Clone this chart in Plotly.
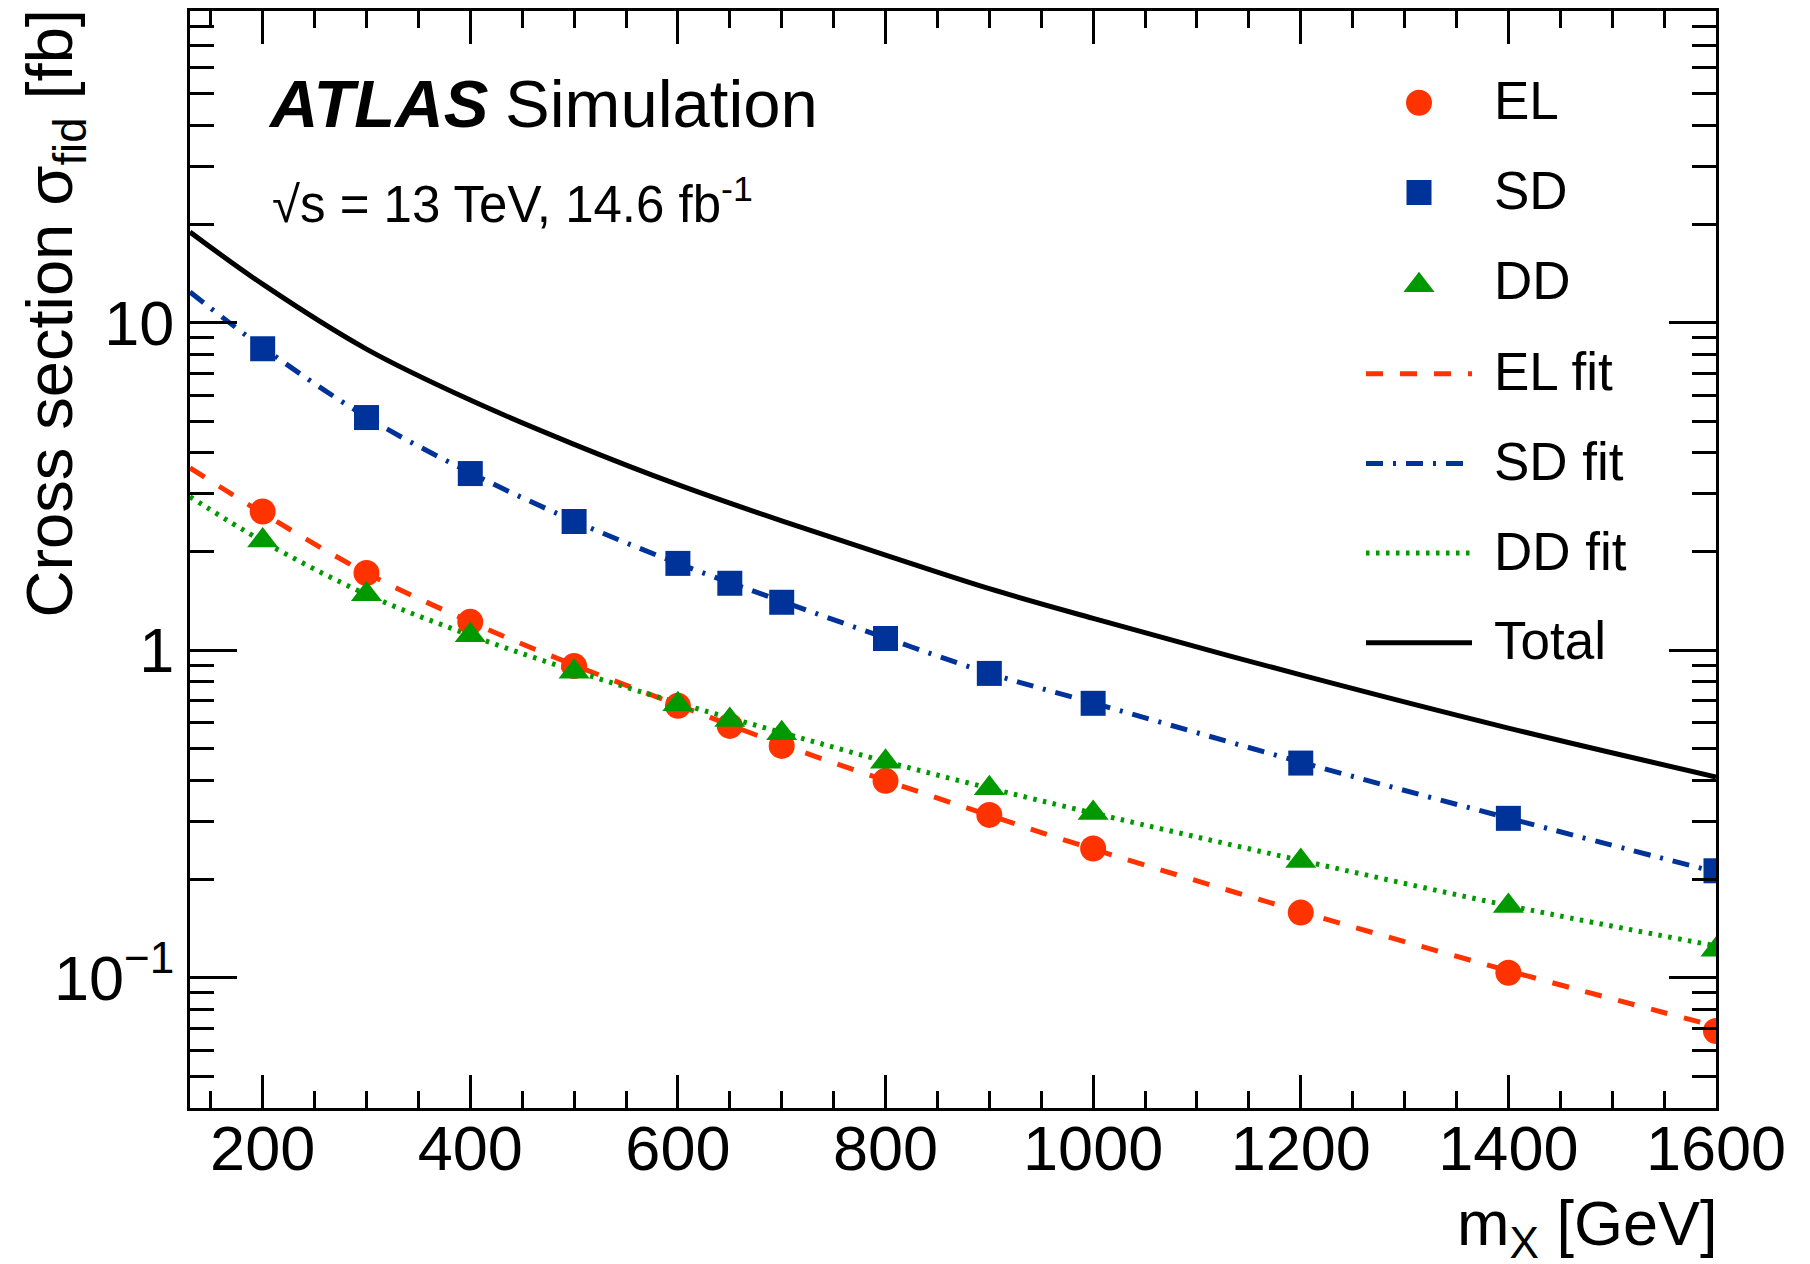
import math
import plotly.graph_objects as go

# ---------------- data ----------------
mass = [200, 300, 400, 500, 600, 650, 700, 800, 900, 1000, 1200, 1400, 1600]
el_xsec = [2.65, 1.72, 1.22, 0.894, 0.676, 0.587, 0.510, 0.399, 0.314, 0.248, 0.158, 0.1035, 0.0687]
sd_xsec = [8.32, 5.13, 3.46, 2.47, 1.84, 1.60, 1.40, 1.085, 0.849, 0.688, 0.452, 0.3065, 0.212]
dd_xsec = [2.16, 1.48, 1.11, 0.859, 0.684, 0.612, 0.557, 0.456, 0.379, 0.318, 0.227, 0.1656, 0.1216]

fit_mass = [130, 200, 300, 400, 500, 600, 700, 800, 900, 1000, 1200, 1400, 1600]
el_fit = [3.60, 2.62, 1.72, 1.22, 0.90, 0.68, 0.515, 0.400, 0.313, 0.247, 0.159, 0.105, 0.071]
sd_fit = [12.4, 8.40, 5.15, 3.48, 2.48, 1.84, 1.41, 1.09, 0.850, 0.690, 0.455, 0.307, 0.210]
dd_fit = [2.94, 2.15, 1.48, 1.11, 0.865, 0.690, 0.560, 0.457, 0.379, 0.318, 0.228, 0.166, 0.125]
total = [18.9, 13.1, 8.30, 5.80, 4.25, 3.20, 2.48, 1.95, 1.54, 1.25, 0.84, 0.578, 0.410]

x_ticks = [200, 400, 600, 800, 1000, 1200, 1400, 1600]
y_ticks = [0.1, 1, 10]
y_ticktext = ["10<sup>\u22121</sup>", "1", "10"]

# ---------------- style ----------------
FONT = "Liberation Sans, Arial, Helvetica, sans-serif"
C_EL = "rgb(255,51,0)"
C_SD = "rgb(0,51,153)"
C_DD = "rgb(0,153,0)"
LW = 5
S_CIRC, S_SQ, S_TRI = 26, 25, 27
W, H = 1810, 1264
L, R, T, B = 190, 1716, 8, 1108


def fx(px):
    return (px - L) / (R - L)


def fy(py):
    return (B - py) / (B - T)


fig = go.Figure()

# fit curves and total
fig.add_trace(go.Scatter(x=fit_mass, y=el_fit, mode="lines", line=dict(color=C_EL, width=LW, dash="17px,17px", shape="spline")))
fig.add_trace(go.Scatter(x=fit_mass, y=sd_fit, mode="lines", line=dict(color=C_SD, width=LW, dash="17px,10px,3px,10px", shape="spline")))
fig.add_trace(go.Scatter(x=fit_mass, y=dd_fit, mode="lines", line=dict(color=C_DD, width=LW, dash="3.5px,6.5px", shape="spline")))
fig.add_trace(go.Scatter(x=fit_mass, y=total, mode="lines", line=dict(color="black", width=LW, shape="spline")))

# simulated points
fig.add_trace(go.Scatter(x=mass, y=el_xsec, mode="markers", marker=dict(symbol="circle", size=S_CIRC, color=C_EL, line=dict(width=0))))
fig.add_trace(go.Scatter(x=mass, y=sd_xsec, mode="markers", marker=dict(symbol="square", size=S_SQ, color=C_SD, line=dict(width=0))))
fig.add_trace(go.Scatter(x=mass, y=dd_xsec, mode="markers", marker=dict(symbol="triangle-up", size=S_TRI, color=C_DD, line=dict(width=0))))

# ---------------- legend (drawn by hand, ROOT style) ----------------
leg_marker_x = fx(1419)
leg_line_x = [fx(1366), fx(1472)]
leg_rows = [100, 190, 280, 371.7, 461.7, 551.5, 641.5]
leg_labels = ["EL", "SD", "DD", "EL fit", "SD fit", "DD fit", "Total"]

fig.add_trace(go.Scatter(x=[leg_marker_x], y=[fy(leg_rows[0])], xaxis="x2", yaxis="y2", mode="markers",
                         marker=dict(symbol="circle", size=S_CIRC, color=C_EL, line=dict(width=0))))
fig.add_trace(go.Scatter(x=[leg_marker_x], y=[fy(leg_rows[1])], xaxis="x2", yaxis="y2", mode="markers",
                         marker=dict(symbol="square", size=S_SQ, color=C_SD, line=dict(width=0))))
fig.add_trace(go.Scatter(x=[leg_marker_x], y=[fy(leg_rows[2] + 3)], xaxis="x2", yaxis="y2", mode="markers",
                         marker=dict(symbol="triangle-up", size=S_TRI, color=C_DD, line=dict(width=0))))
for row, col, dash in [(3, C_EL, "17px,17px"), (4, C_SD, "17px,10px,3px,10px"), (5, C_DD, "3.5px,6.5px"), (6, "black", "solid")]:
    fig.add_trace(go.Scatter(x=leg_line_x, y=[fy(leg_rows[row])] * 2, xaxis="x2", yaxis="y2", mode="lines",
                             line=dict(color=col, width=LW, dash=dash)))

annotations = []
for row, lab in zip(leg_rows, leg_labels):
    annotations.append(dict(text=lab, x=fx(1493), y=fy(row - 2), xref="paper", yref="paper",
                            xanchor="left", yanchor="middle", showarrow=False, borderpad=0,
                            font=dict(family=FONT, size=53, color="black")))

# ATLAS label
annotations.append(dict(text="<b><i>ATLAS</i></b>", x=fx(267), y=fy(101), xref="paper", yref="paper",
                        xanchor="left", yanchor="middle", showarrow=False, borderpad=0,
                        font=dict(family=FONT, size=67, color="black")))
annotations.append(dict(text="Simulation", x=fx(504), y=fy(101), xref="paper", yref="paper",
                        xanchor="left", yanchor="middle", showarrow=False, borderpad=0,
                        font=dict(family=FONT, size=67, color="black")))
annotations.append(dict(text="\u221As = 13 TeV, 14.6 fb<sup>-1</sup>", x=fx(271), y=fy(232),
                        xref="paper", yref="paper", xanchor="left", yanchor="bottom", showarrow=False,
                        borderpad=0, font=dict(family=FONT, size=51, color="black")))

# axis titles (ROOT/ATLAS style: aligned to the end of the axis)
annotations.append(dict(text="m<sub>X</sub> [GeV]", x=fx(1718), y=fy(1187), xref="paper", yref="paper",
                        xanchor="right", yanchor="top", showarrow=False, borderpad=0,
                        font=dict(family=FONT, size=63, color="black")))
annotations.append(dict(text="Cross section \u03c3<sub>fid</sub> [fb]", x=fx(12), y=fy(6),
                        xref="paper", yref="paper", xanchor="left", yanchor="top", textangle=-90,
                        showarrow=False, borderpad=0, font=dict(family=FONT, size=65, color="black")))

y_minor = [m * d for d in (0.01, 0.1, 1, 10) for m in range(2, 10) if 0.04 <= m * d <= 89]

fig.update_layout(
    width=W, height=H, autosize=False,
    margin=dict(l=L, r=W - R, t=T, b=H - B, pad=0),
    plot_bgcolor="white", paper_bgcolor="white",
    showlegend=False,
    font=dict(family=FONT, color="black"),
    annotations=annotations,
    xaxis=dict(
        range=[130, 1600], tickmode="array", tickvals=x_ticks, ticktext=[str(v) for v in x_ticks],
        ticks="inside", ticklen=33, tickwidth=3, tickcolor="black", ticklabelstandoff=-17,
        showline=True, linewidth=3, linecolor="black", mirror="allticks",
        showgrid=False, zeroline=False,
        tickfont=dict(family=FONT, size=63, color="black"),
        minor=dict(dtick=50, tick0=0, ticks="inside", ticklen=17, tickwidth=3, tickcolor="black", showgrid=False),
    ),
    yaxis=dict(
        type="log", range=[math.log10(0.04), math.log10(89.4)],
        tickmode="array", tickvals=y_ticks, ticktext=y_ticktext,
        ticks="inside", ticklen=47, tickwidth=3, tickcolor="black",
        showline=True, linewidth=3, linecolor="black", mirror="allticks",
        showgrid=False, zeroline=False,
        tickfont=dict(family=FONT, size=63, color="black"),
        minor=dict(tickmode="array", tickvals=y_minor, ticks="inside", ticklen=24, tickwidth=3,
                   tickcolor="black", showgrid=False),
    ),
    xaxis2=dict(range=[0, 1], overlaying="x", anchor="y2", visible=False, fixedrange=True),
    yaxis2=dict(range=[0, 1], overlaying="y", anchor="x2", visible=False, fixedrange=True),
)

fig.write_html("out.html")
